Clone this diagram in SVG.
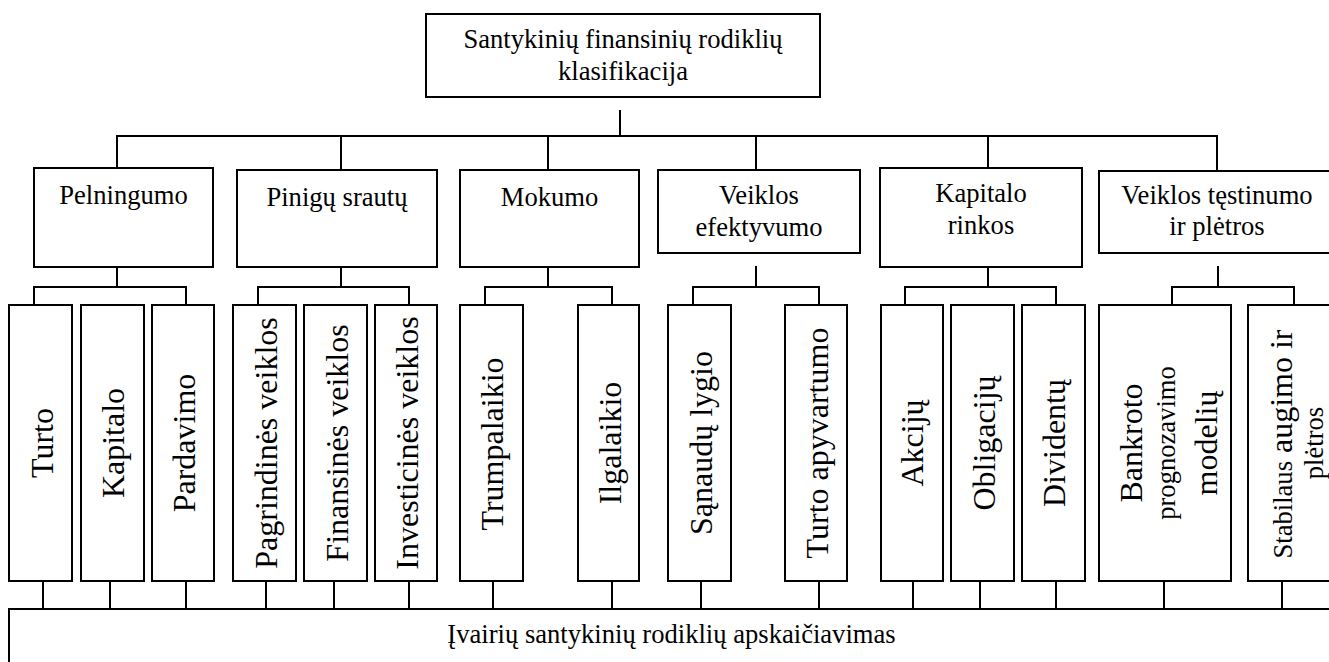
<svg xmlns="http://www.w3.org/2000/svg" width="1329" height="662" viewBox="0 0 1329 662" font-family="'Liberation Serif', 'Times New Roman', serif">
  <style>
    .box { fill: #ffffff; stroke: #000000; stroke-width: 2; }
    .wire { fill: none; stroke: #000000; stroke-width: 2; }
    .h { font-family: "Liberation Serif", "Times New Roman", serif; font-size: 26.6px; text-anchor: middle; fill: #000000; }
    .v { font-family: "Liberation Serif", "Times New Roman", serif; font-size: 32px; text-anchor: middle; fill: #000000; }
    .vs { font-family: "Liberation Serif", "Times New Roman", serif; font-size: 26.6px; text-anchor: middle; fill: #000000; }
  </style>
  <rect width="1329" height="662" fill="#ffffff"/>

  <!-- connectors -->
  <g id="connectors" class="wire">
    <!-- root to categories -->
    <path d="M620 110 V136"/>
    <path d="M117 168 V136 H1217 V171"/>
    <path d="M341 136 V170"/>
    <path d="M548 136 V170"/>
    <path d="M756 136 V170"/>
    <path d="M988 136 V168"/>
    <!-- categories to sub-types -->
    <path d="M117 267 V287"/><path d="M34 305 V287 H186 V305"/>
    <path d="M341 267 V287"/><path d="M258 305 V287 H409 V305"/>
    <path d="M548 267 V287"/><path d="M485 305 V287 H612 V305"/>
    <path d="M756 266 V287"/><path d="M693 305 V287 H819 V305"/>
    <path d="M988 267 V287"/><path d="M905 305 V287 H1056 V305"/>
    <path d="M1218 266 V287"/><path d="M1172 305 V287 H1294 V305"/>
    <!-- sub-types to calculation -->
    <path d="M43 581 V609"/><path d="M110 581 V609"/><path d="M186 581 V609"/>
    <path d="M266 581 V609"/><path d="M334 581 V609"/><path d="M409 581 V609"/>
    <path d="M493 581 V609"/><path d="M612 581 V609"/>
    <path d="M701 581 V609"/><path d="M819 581 V609"/>
    <path d="M913 581 V609"/><path d="M980 581 V609"/><path d="M1056 581 V609"/>
    <path d="M1164 581 V609"/><path d="M1282 581 V609"/>
  </g>

  <!-- root -->
  <g id="root">
    <rect class="box" x="426" y="14" width="394" height="83"/>
    <text class="h" x="623" y="48">Santykinių finansinių rodiklių</text>
    <text class="h" x="623" y="80">klasifikacija</text>
  </g>

  <!-- categories -->
  <g id="pelningumo">
    <rect class="box" x="34" y="168" width="179" height="99"/>
    <text class="h" x="123.5" y="204">Pelningumo</text>
  </g>
  <g id="pinigu-srautu">
    <rect class="box" x="237" y="170" width="200" height="97"/>
    <text class="h" x="337" y="206">Pinigų srautų</text>
  </g>
  <g id="mokumo">
    <rect class="box" x="460" y="170" width="179" height="97"/>
    <text class="h" x="549.5" y="206">Mokumo</text>
  </g>
  <g id="veiklos-efektyvumo">
    <rect class="box" x="658" y="170" width="202" height="83"/>
    <text class="h" x="759" y="204">Veiklos</text>
    <text class="h" x="759" y="236">efektyvumo</text>
  </g>
  <g id="kapitalo-rinkos">
    <rect class="box" x="880" y="168" width="202" height="99"/>
    <text class="h" x="981" y="202">Kapitalo</text>
    <text class="h" x="981" y="234">rinkos</text>
  </g>
  <g id="veiklos-testinumo">
    <rect class="box" x="1099" y="171" width="250" height="82"/>
    <text class="h" x="1217" y="204">Veiklos tęstinumo</text>
    <text class="h" x="1217" y="235">ir plėtros</text>
  </g>

  <!-- sub-types (vertical labels) -->
  <g id="turto">
    <rect class="box" x="9" y="305" width="63" height="276"/>
    <text class="v" transform="translate(53 443) rotate(-90)">Turto</text>
  </g>
  <g id="kapitalo">
    <rect class="box" x="81" y="305" width="63" height="276"/>
    <text class="v" transform="translate(124 443) rotate(-90)">Kapitalo</text>
  </g>
  <g id="pardavimo">
    <rect class="box" x="152" y="305" width="62" height="276"/>
    <text class="v" transform="translate(195 443) rotate(-90)">Pardavimo</text>
  </g>
  <g id="pagrindines">
    <rect class="box" x="233" y="305" width="63" height="276"/>
    <text class="v" transform="translate(277 443) rotate(-90)">Pagrindinės veiklos</text>
  </g>
  <g id="finansines">
    <rect class="box" x="304" y="305" width="63" height="276"/>
    <text class="v" transform="translate(347.5 443) rotate(-90)">Finansinės veiklos</text>
  </g>
  <g id="investicines">
    <rect class="box" x="375" y="305" width="62" height="276"/>
    <text class="v" transform="translate(418 443) rotate(-90)">Investicinės veiklos</text>
  </g>
  <g id="trumpalaikio">
    <rect class="box" x="460" y="305" width="63" height="276"/>
    <text class="v" transform="translate(503 444) rotate(-90)">Trumpalaikio</text>
  </g>
  <g id="ilgalaikio">
    <rect class="box" x="578" y="305" width="61" height="276"/>
    <text class="v" transform="translate(620.5 443) rotate(-90)">Ilgalaikio</text>
  </g>
  <g id="sanaudu">
    <rect class="box" x="668" y="305" width="63" height="276"/>
    <text class="v" transform="translate(712 443) rotate(-90)">Sąnaudų lygio</text>
  </g>
  <g id="turto-apyvartumo">
    <rect class="box" x="785" y="305" width="62" height="276"/>
    <text class="v" transform="translate(828 443) rotate(-90)">Turto apyvartumo</text>
  </g>
  <g id="akciju">
    <rect class="box" x="881" y="305" width="62" height="276"/>
    <text class="v" transform="translate(923 443) rotate(-90)">Akcijų</text>
  </g>
  <g id="obligaciju">
    <rect class="box" x="951" y="305" width="63" height="276"/>
    <text class="v" transform="translate(995 443) rotate(-90)">Obligacijų</text>
  </g>
  <g id="dividentu">
    <rect class="box" x="1022" y="305" width="63" height="276"/>
    <text class="v" transform="translate(1065 443) rotate(-90)">Dividentų</text>
  </g>
  <g id="bankroto">
    <rect class="box" x="1099" y="305" width="132" height="276"/>
    <text class="v" transform="translate(1142 443) rotate(-90)">Bankroto</text>
    <text class="vs" transform="translate(1175 443) rotate(-90)">prognozavimo</text>
    <text class="v" transform="translate(1217 443) rotate(-90)">modelių</text>
  </g>
  <g id="stabilaus">
    <rect class="box" x="1248" y="305" width="100" height="276"/>
    <text class="v" transform="translate(1292 444) rotate(-90)"><tspan font-size="26.6">Stabilaus</tspan> augimo ir</text>
    <text class="vs" transform="translate(1323 443) rotate(-90)">plėtros</text>
  </g>

  <!-- result -->
  <g id="apskaiciavimas">
    <rect class="box" x="9" y="609" width="1340" height="100"/>
    <text class="h" x="671.5" y="643">Įvairių santykinių rodiklių apskaičiavimas</text>
  </g>
</svg>
